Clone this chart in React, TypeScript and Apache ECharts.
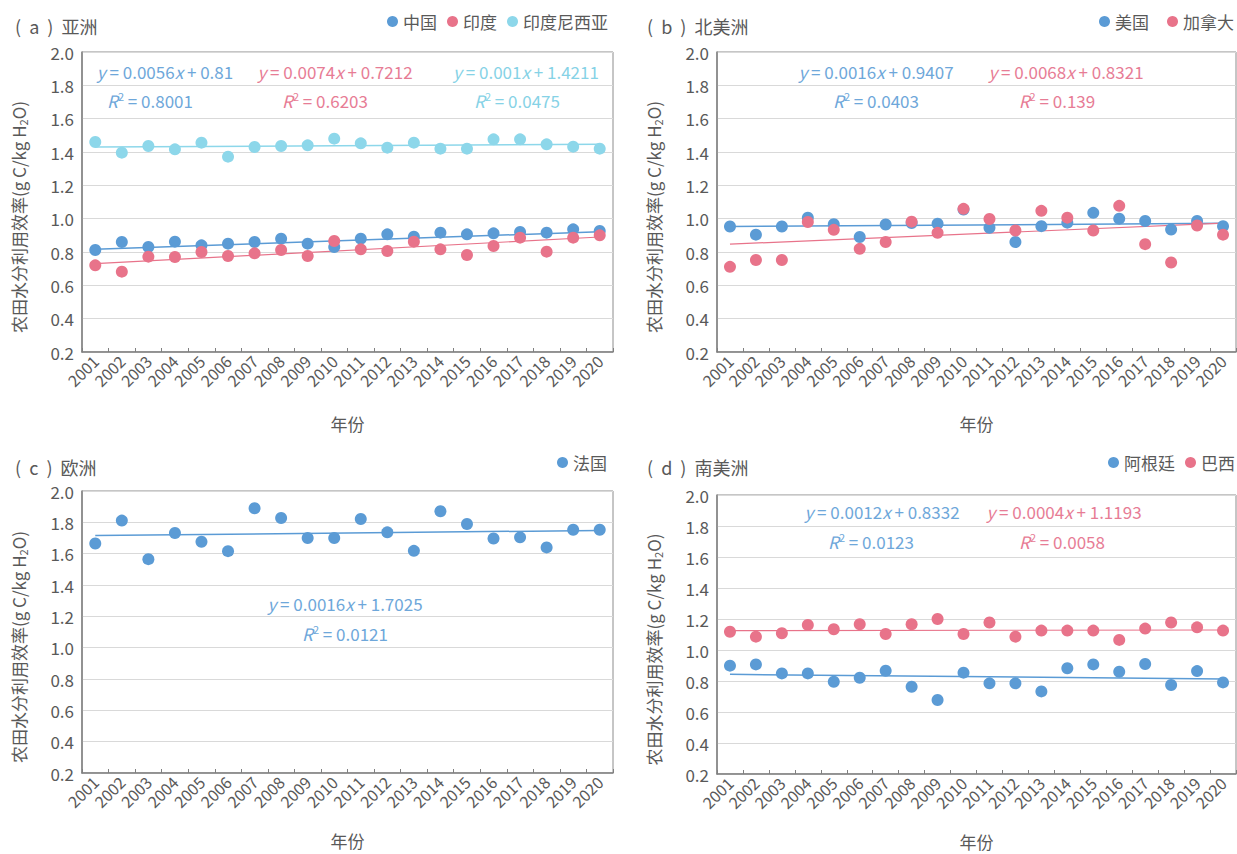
import React, { useEffect, useRef } from 'react';
import * as echarts from 'echarts';

const years = ['2001','2002','2003','2004','2005','2006','2007','2008','2009','2010','2011','2012','2013','2014','2015','2016','2017','2018','2019','2020'];

// (a) Asia
const china = [0.812,0.86,0.83,0.862,0.84,0.85,0.86,0.88,0.85,0.83,0.88,0.906,0.892,0.916,0.906,0.912,0.92,0.916,0.936,0.926];
const india = [0.72,0.682,0.772,0.77,0.80,0.776,0.792,0.812,0.776,0.866,0.816,0.806,0.862,0.816,0.782,0.836,0.886,0.802,0.886,0.90];
const indonesia = [1.46,1.396,1.436,1.416,1.456,1.372,1.43,1.436,1.44,1.48,1.452,1.426,1.456,1.42,1.42,1.476,1.476,1.446,1.432,1.42];
const chinaTrend = [0.816, 0.922];
const indiaTrend = [0.73, 0.89];
const indonesiaTrend = [1.43, 1.446];

// (b) North America
const usa = [0.953,0.904,0.953,1.006,0.967,0.89,0.965,0.974,0.97,1.055,0.945,0.86,0.955,0.976,1.035,1.0,0.986,0.935,0.986,0.955];
const canada = [0.711,0.752,0.752,0.98,0.933,0.819,0.86,0.982,0.915,1.059,0.998,0.929,1.047,1.006,0.929,1.077,0.847,0.737,0.959,0.904];
const usaTrend = [0.953, 0.972];
const canadaTrend = [0.847, 0.973];

// (c) Europe
const france = [1.665,1.811,1.565,1.732,1.676,1.616,1.89,1.828,1.70,1.70,1.821,1.736,1.618,1.871,1.789,1.697,1.704,1.64,1.753,1.753];
const franceTrend = [1.716, 1.748];

// (d) South America
const argentina = [0.899,0.907,0.849,0.849,0.795,0.821,0.866,0.763,0.677,0.854,0.785,0.785,0.733,0.882,0.907,0.86,0.91,0.774,0.864,0.791];
const brazil = [1.118,1.086,1.108,1.162,1.134,1.166,1.103,1.166,1.20,1.103,1.177,1.086,1.125,1.125,1.125,1.065,1.138,1.177,1.146,1.125];
const argentinaTrend = [0.843, 0.813];
const brazilTrend = [1.125, 1.129];

const yTicks = { min: 0.2, max: 2.0, interval: 0.2 };

const FONT = "'Noto Sans CJK SC', 'Noto Sans', sans-serif";
const BLUE = '#5B9BD5';
const PINK = '#E8738A';
const CYAN = '#8DD7EA';
const BLUE_T = '#6EA7DA';
const PINK_T = '#E77C95';
const CYAN_T = '#86D2E6';
const GREY_TXT = '#595959';
const AXIS = '#808080';

const grids = [
  { left: 82, top: 52, width: 531, height: 300 },
  { left: 717, top: 52, width: 519, height: 300 },
  { left: 82, top: 491, width: 531, height: 282 },
  { left: 717, top: 495, width: 519, height: 279 },
];

function eqText(x: number, y: number, text: string, color: string) {
  return {
    type: 'text',
    x, y,
    style: {
      text,
      align: 'center',
      verticalAlign: 'middle',
      fill: color,
      fontSize: 17,
      fontFamily: FONT,
      rich: {
        n: { fill: color, fontSize: 17, fontFamily: FONT, lineHeight: 20 },
        i: { fill: color, fontSize: 17, fontFamily: FONT, fontStyle: 'italic', lineHeight: 20 },
        s: { fill: color, fontSize: 11, fontFamily: FONT, lineHeight: 11, verticalAlign: 'top' },
      },
    },
  };
}

function scatter(name: string, data: number[], color: string, idx: number, z = 3) {
  return {
    type: 'scatter', name, data, xAxisIndex: idx, yAxisIndex: idx,
    symbol: 'circle', symbolSize: 12, z,
    itemStyle: { color, opacity: 1 },
  };
}

function trend(name: string, vals: number[], color: string, idx: number, width = 1.5) {
  return {
    type: 'line', name, xAxisIndex: idx, yAxisIndex: idx,
    data: [[years[0], vals[0]], [years[years.length - 1], vals[1]]],
    symbol: 'none', z: 2,
    lineStyle: { color, width },
  };
}

export default function App() {
  const ref = useRef<HTMLDivElement>(null);
  useEffect(() => {
    if (!ref.current) return;
    const chart = echarts.init(ref.current, null, { renderer: 'svg' });
    const titles = [
      { text: '(  a  )  亚洲', left: 10, top: 12 },
      { text: '(  b  )  北美洲', left: 642, top: 12 },
      { text: '(  c  )  欧洲', left: 10, top: 453 },
      { text: '(  d  )  南美洲', left: 642, top: 453 },
    ].map(t => ({ ...t, textStyle: { fontSize: 18, fontWeight: 'normal', color: GREY_TXT, fontFamily: FONT } }));

    const legendBase = {
      icon: 'circle', itemWidth: 11, itemHeight: 11, itemGap: 10, padding: 0,
      textStyle: { fontSize: 17, color: GREY_TXT, fontFamily: FONT },
    };
    const legends = [
      { ...legendBase, right: 629, top: 13, data: ['中国', '印度', '印度尼西亚'] },
      { ...legendBase, right: 3, top: 13, itemGap: 18, data: ['美国', '加拿大'] },
      { ...legendBase, right: 630, top: 454, data: ['法国'] },
      { ...legendBase, right: 2, top: 454, data: ['阿根廷', '巴西'] },
    ];

    const xAxes = grids.map((_, i) => ({
      type: 'category', gridIndex: i, data: years, boundaryGap: true,
      axisLine: { lineStyle: { color: AXIS, width: 1.5 } },
      axisTick: { show: true, inside: true, length: 4, interval: 0, lineStyle: { color: AXIS } },
      axisLabel: { rotate: 45, interval: 0, fontSize: 16, color: GREY_TXT, fontFamily: FONT, margin: 6 },
      name: '年份', nameLocation: 'middle', nameGap: i < 2 ? 63 : 59,
      nameTextStyle: { fontSize: 17, color: GREY_TXT, fontFamily: FONT },
      splitLine: { show: false },
    }));

    const yAxes = grids.map((_, i) => ({
      type: 'value', gridIndex: i, min: yTicks.min, max: yTicks.max, interval: yTicks.interval,
      axisLine: { show: true, lineStyle: { color: AXIS, width: 1.5 } },
      axisTick: { show: false },
      axisLabel: { fontSize: 17, color: GREY_TXT, fontFamily: FONT, margin: 8, formatter: (v: number) => v.toFixed(1) },
      splitLine: { lineStyle: { color: '#d9d9d9', width: 1 } },
      name: '农田水分利用效率(g C/kg H{sub|2}O)', nameLocation: 'middle', nameGap: 54,
      nameTextStyle: {
        fontSize: 17, color: GREY_TXT, fontFamily: FONT, lineHeight: 20,
        padding: [0, 30, 0, 0],
        rich: { sub: { fontSize: 11, color: GREY_TXT, fontFamily: FONT, lineHeight: 12, verticalAlign: 'bottom' } },
      },
    }));

    const series = [
      trend('中国趋势', chinaTrend, BLUE, 0),
      trend('印度趋势', indiaTrend, PINK, 0, 1.2),
      trend('印度尼西亚趋势', indonesiaTrend, CYAN, 0),
      scatter('中国', china, BLUE, 0, 3),
      scatter('印度', india, PINK, 0, 4),
      scatter('印度尼西亚', indonesia, CYAN, 0, 3),
      trend('美国趋势', usaTrend, BLUE, 1),
      trend('加拿大趋势', canadaTrend, PINK, 1, 1.2),
      scatter('美国', usa, BLUE, 1, 3),
      scatter('加拿大', canada, PINK, 1, 4),
      trend('法国趋势', franceTrend, BLUE, 2),
      scatter('法国', france, BLUE, 2, 3),
      trend('阿根廷趋势', argentinaTrend, BLUE, 3),
      trend('巴西趋势', brazilTrend, PINK, 3, 1.2),
      scatter('阿根廷', argentina, BLUE, 3, 3),
      scatter('巴西', brazil, PINK, 3, 4),
    ];

    const graphic = [
      eqText(165, 71, '{i|y}{n| = 0.0056}{i|x}{n| + 0.81}', BLUE_T),
      eqText(150, 100, '{i|R}{s|2}{n| = 0.8001}', BLUE_T),
      eqText(335, 71, '{i|y}{n| = 0.0074}{i|x}{n| + 0.7212}', PINK_T),
      eqText(325, 100, '{i|R}{s|2}{n| = 0.6203}', PINK_T),
      eqText(526, 71, '{i|y}{n| = 0.001}{i|x}{n| + 1.4211}', CYAN_T),
      eqText(517, 100, '{i|R}{s|2}{n| = 0.0475}', CYAN_T),
      eqText(876, 71, '{i|y}{n| = 0.0016}{i|x}{n| + 0.9407}', BLUE_T),
      eqText(876, 100, '{i|R}{s|2}{n| = 0.0403}', BLUE_T),
      eqText(1066, 71, '{i|y}{n| = 0.0068}{i|x}{n| + 0.8321}', PINK_T),
      eqText(1057, 100, '{i|R}{s|2}{n| = 0.139}', PINK_T),
      eqText(345, 603, '{i|y}{n| = 0.0016}{i|x}{n| + 1.7025}', BLUE_T),
      eqText(345, 633, '{i|R}{s|2}{n| = 0.0121}', BLUE_T),
      eqText(882, 511, '{i|y}{n| = 0.0012}{i|x}{n| + 0.8332}', BLUE_T),
      eqText(871, 541, '{i|R}{s|2}{n| = 0.0123}', BLUE_T),
      eqText(1064, 511, '{i|y}{n| = 0.0004}{i|x}{n| + 1.1193}', PINK_T),
      eqText(1062, 541, '{i|R}{s|2}{n| = 0.0058}', PINK_T),
    ];

    chart.setOption({
      animation: false,
      backgroundColor: '#ffffff',
      textStyle: { fontFamily: FONT },
      title: titles,
      legend: legends,
      grid: grids.map(g => ({ ...g, show: true, borderColor: '#8c8c8c', borderWidth: 1, backgroundColor: 'transparent', containLabel: false })),
      xAxis: xAxes,
      yAxis: yAxes,
      series,
      graphic,
    } as any);
    return () => chart.dispose();
  }, []);
  return <div ref={ref} style={{ position: 'absolute', left: 0, top: 0, width: 1237, height: 854 }} />;
}
